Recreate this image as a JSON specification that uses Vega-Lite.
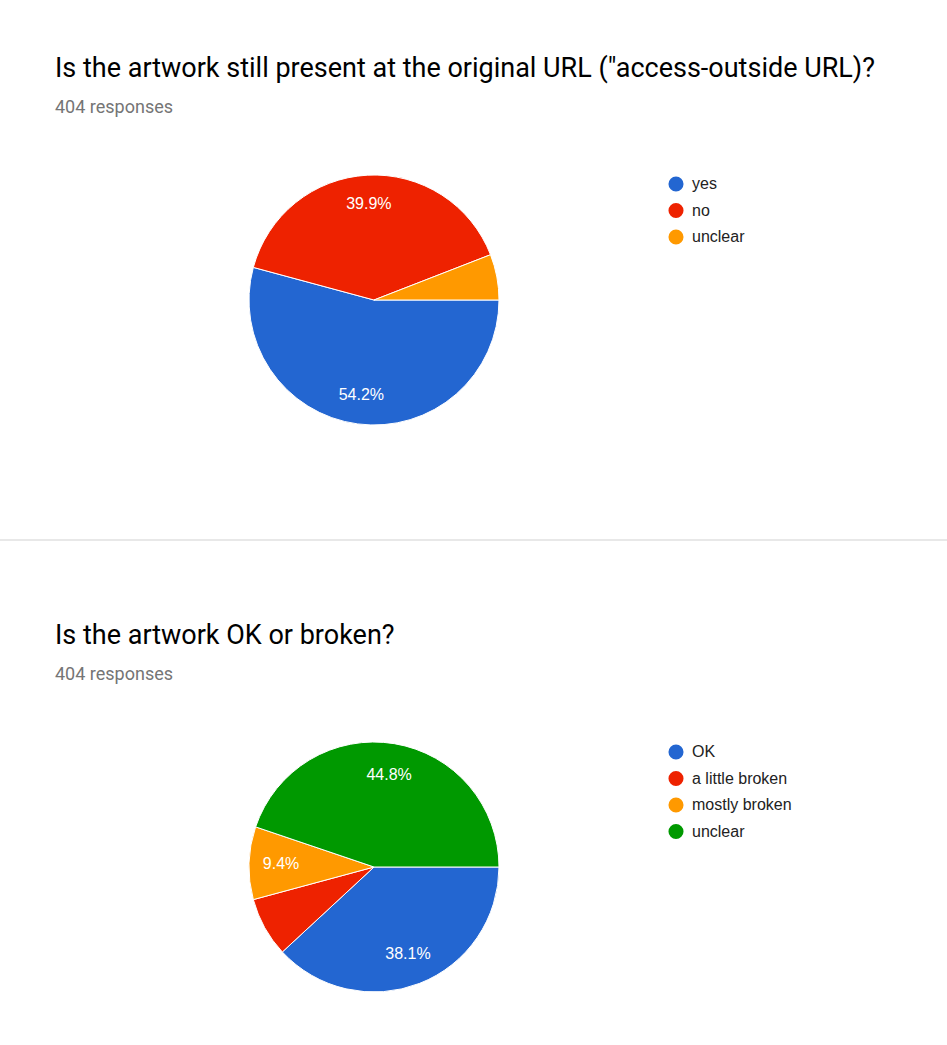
{
  "$schema": "https://vega.github.io/schema/vega-lite/v6.json",
  "background": "white",
  "padding": {"left": 0, "top": 55, "right": 0, "bottom": 0},
  "spacing": 81,
  "resolve": {"scale": {"color": "independent", "theta": "independent"}, "legend": {"color": "independent"}},
  "config": {
    "view": {"stroke": null},
    "font": "Liberation Sans",
    "title": {
      "anchor": "start",
      "frame": "group",
      "dx": 55,
      "font": "Roboto",
      "fontSize": 27,
      "fontWeight": "normal",
      "color": "#000000",
      "subtitleFont": "Roboto",
      "subtitleFontSize": 18,
      "subtitleColor": "#757575",
      "subtitlePadding": 16,
      "offset": 24
    },
    "legend": {
      "title": null,
      "orient": "none",
      "legendX": 668,
      "symbolType": "circle",
      "symbolSize": 227,
      "symbolStrokeWidth": 0,
      "labelFont": "Liberation Sans",
      "labelFontSize": 16,
      "labelColor": "#222222",
      "labelOffset": 8,
      "rowPadding": 10.5,
      "padding": 0
    }
  },
  "datasets": {
    "q1": [
      {"answer": "yes", "share": 0.542, "rank": 1},
      {"answer": "no", "share": 0.399, "rank": 2},
      {"answer": "unclear", "share": 0.059, "rank": 3}
    ],
    "q2": [
      {"answer": "OK", "share": 0.381, "rank": 1},
      {"answer": "a little broken", "share": 0.077, "rank": 2},
      {"answer": "mostly broken", "share": 0.094, "rank": 3},
      {"answer": "unclear", "share": 0.448, "rank": 4}
    ]
  },
  "vconcat": [
    {
      "width": 748,
      "height": 316,
      "title": {"text": "Is the artwork still present at the original URL (\"access-outside URL)?", "subtitle": "404 responses"},
      "data": {"name": "q1"},
      "encoding": {
        "theta": {"field": "share", "type": "quantitative", "stack": true, "scale": {"range": [1.5707963, 7.8539816]}},
        "order": {"field": "rank", "type": "quantitative"}
      },
      "layer": [
        {
          "mark": {"type": "arc", "outerRadius": 125, "stroke": "#ffffff", "strokeWidth": 1},
          "encoding": {
            "color": {
              "field": "answer", "type": "nominal",
              "scale": {"domain": ["yes", "no", "unclear"], "range": ["#2366d1", "#ee2200", "#ff9900"]},
              "legend": {"legendY": 34}
            }
          }
        },
        {
          "mark": {"type": "text", "radius": 96, "fontSize": 16, "fill": "#ffffff", "font": "Liberation Sans"},
          "encoding": {
            "text": {"condition": {"test": "datum.share >= 0.09", "field": "share", "type": "quantitative", "format": ".1%"}, "value": ""}
          }
        }
      ]
    },
    {
      "data": {"values": [{}]},
      "width": 947,
      "height": 2,
      "mark": {"type": "rect", "color": "#e8e8e8"},
      "encoding": {}
    },
    {
      "width": 748,
      "height": 316,
      "title": {"text": "Is the artwork OK or broken?", "subtitle": "404 responses"},
      "data": {"name": "q2"},
      "encoding": {
        "theta": {"field": "share", "type": "quantitative", "stack": true, "scale": {"range": [1.5707963, 7.8539816]}},
        "order": {"field": "rank", "type": "quantitative"}
      },
      "layer": [
        {
          "mark": {"type": "arc", "outerRadius": 125, "stroke": "#ffffff", "strokeWidth": 1},
          "encoding": {
            "color": {
              "field": "answer", "type": "nominal",
              "scale": {"domain": ["OK", "a little broken", "mostly broken", "unclear"], "range": ["#2366d1", "#ee2200", "#ff9900", "#009900"]},
              "legend": {"legendY": 35}
            }
          }
        },
        {
          "mark": {"type": "text", "radius": 93, "fontSize": 16, "fill": "#ffffff", "font": "Liberation Sans"},
          "encoding": {
            "text": {"condition": {"test": "datum.share >= 0.09", "field": "share", "type": "quantitative", "format": ".1%"}, "value": ""}
          }
        }
      ]
    }
  ]
}
